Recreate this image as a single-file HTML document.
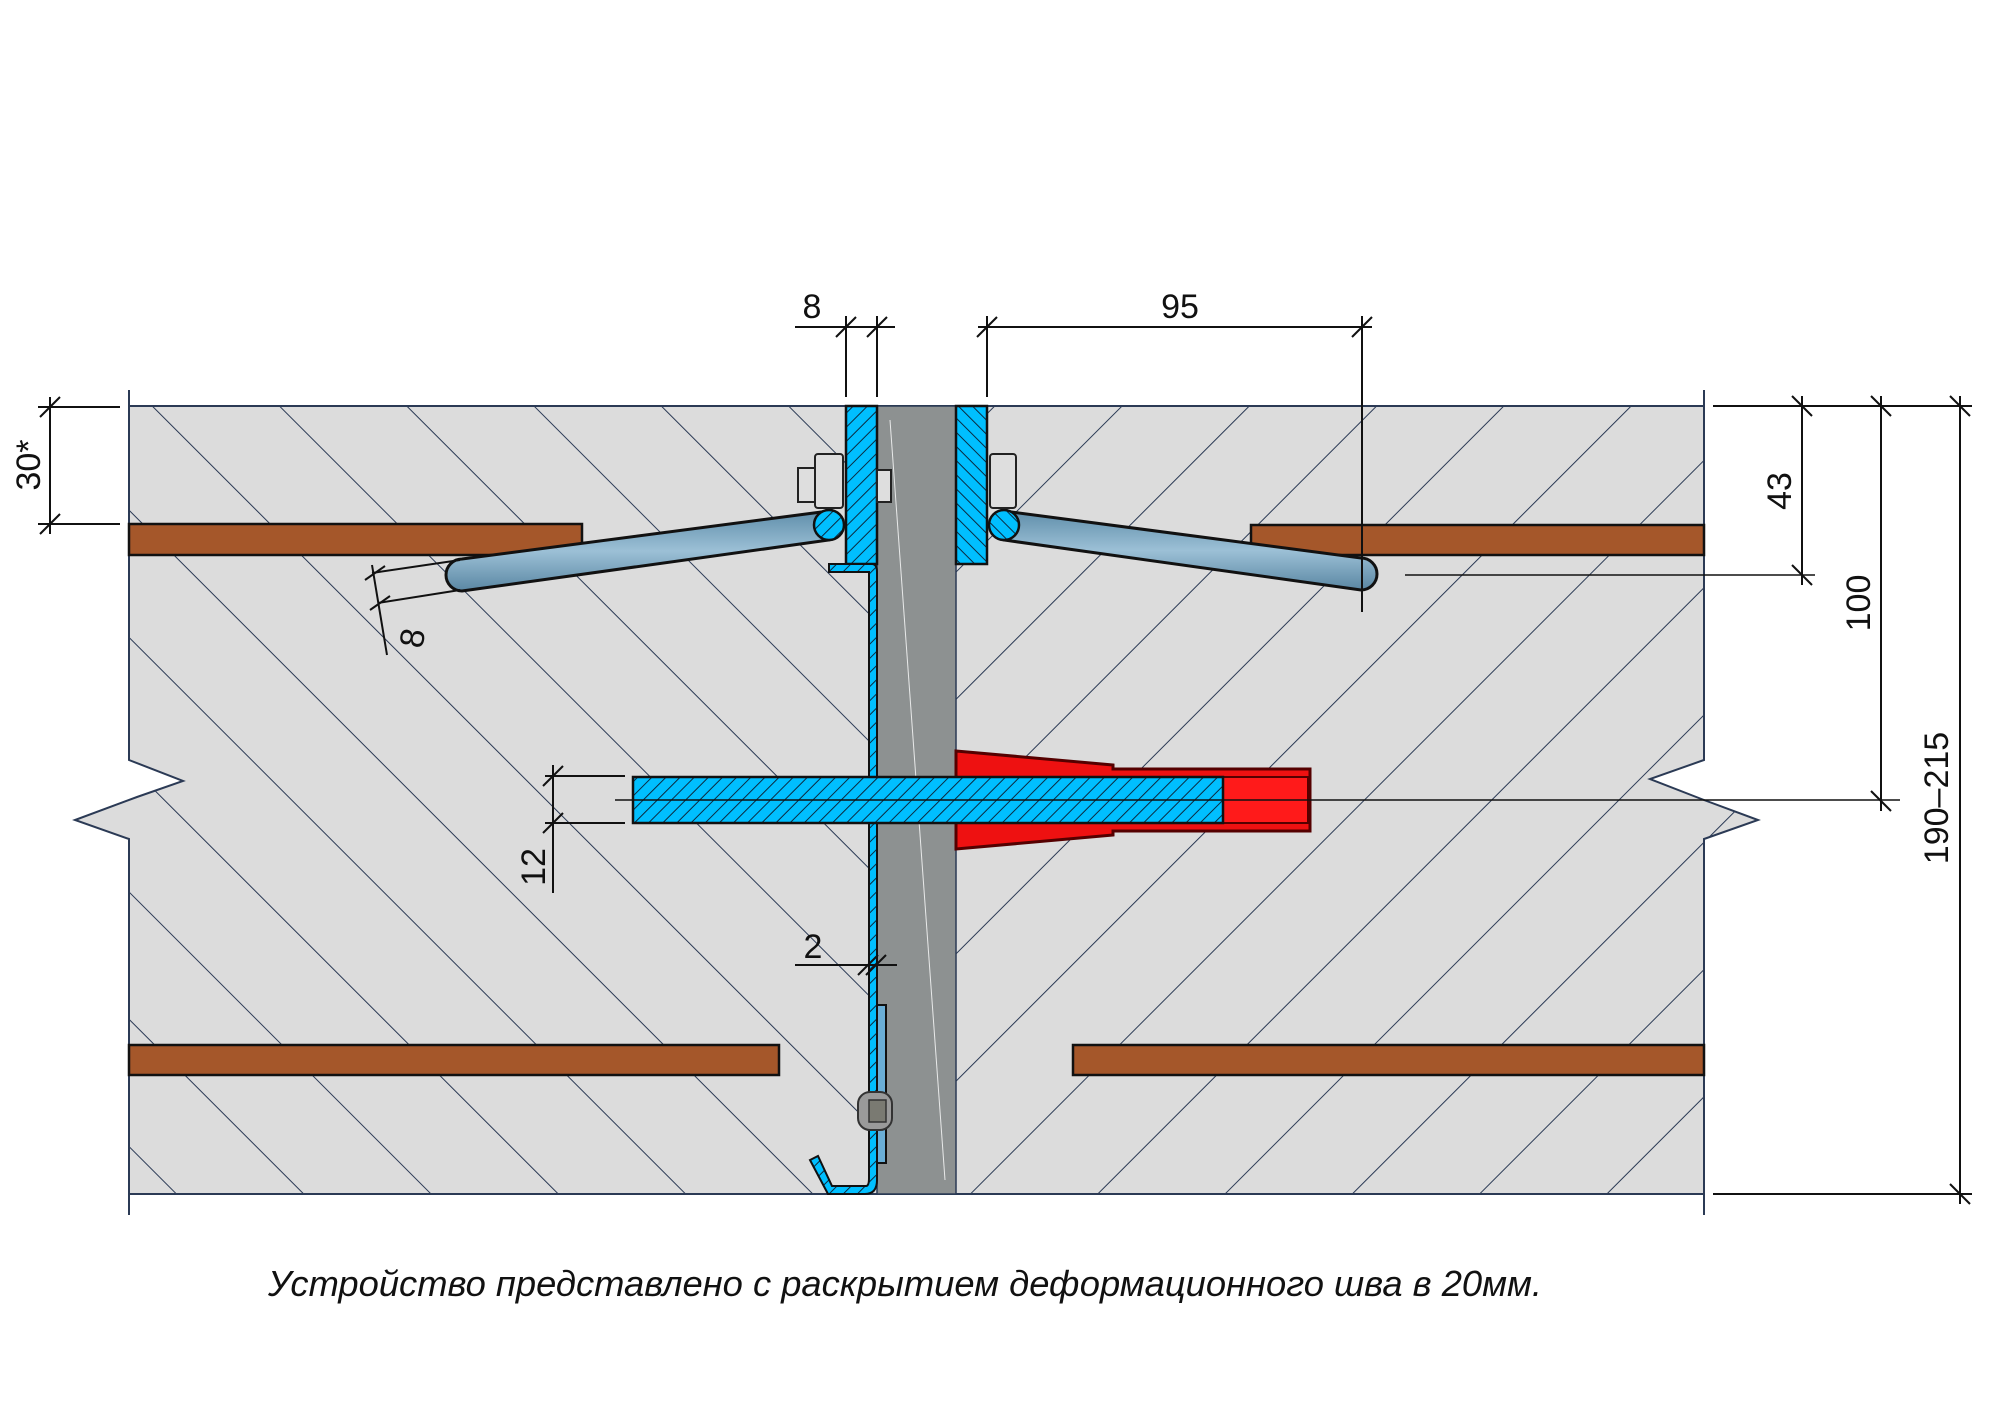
<!DOCTYPE html>
<html><head><meta charset="utf-8"><style>html,body{margin:0;padding:0;background:#fff}svg{display:block}</style></head>
<body>
<svg width="2005" height="1401" viewBox="0 0 2005 1401" xmlns="http://www.w3.org/2000/svg" font-family="'Liberation Sans', 'DejaVu Sans', sans-serif">
<defs>
<pattern id="hL" patternUnits="userSpaceOnUse" width="90" height="90" patternTransform="rotate(-45)">
<line x1="0" y1="0" x2="0" y2="90" stroke="#2b3a55" stroke-width="2"/></pattern>
<pattern id="hR" patternUnits="userSpaceOnUse" width="90" height="90" patternTransform="rotate(45)">
<line x1="0" y1="0" x2="0" y2="90" stroke="#2b3a55" stroke-width="2"/></pattern>
<pattern id="hb" patternUnits="userSpaceOnUse" width="10" height="10" patternTransform="rotate(45)">
<rect width="10" height="10" fill="#00bfff"/><line x1="0" y1="0" x2="0" y2="10" stroke="#0b2a40" stroke-width="2"/></pattern>
<pattern id="hb2" patternUnits="userSpaceOnUse" width="10" height="10" patternTransform="rotate(-45)">
<rect width="10" height="10" fill="#00bfff"/><line x1="0" y1="0" x2="0" y2="10" stroke="#0b2a40" stroke-width="2"/></pattern>
<linearGradient id="an" x1="0" y1="0" x2="0" y2="1"><stop offset="0" stop-color="#5f8eaa"/><stop offset="0.5" stop-color="#9cc0d6"/><stop offset="1" stop-color="#5a87a3"/></linearGradient>
</defs>

<path d="M129,406 H877 V1194 H129 V839 L75,820 L137,797 L183,781 L129,760 Z" fill="#dcdcdc"/>
<path d="M129,406 H877 V1194 H129 V839 L75,820 L137,797 L183,781 L129,760 Z" fill="url(#hL)"/>
<path d="M956,406 H1704 V760 L1650,779 L1704,800 L1758,820 L1704,839 V1194 H956 Z" fill="#dcdcdc"/>
<path d="M956,406 H1704 V760 L1650,779 L1704,800 L1758,820 L1704,839 V1194 H956 Z" fill="url(#hR)"/>
<g stroke="#2b3a55" stroke-width="2" fill="none">
<line x1="129" y1="406" x2="1704" y2="406"/>
<line x1="129" y1="1194" x2="1704" y2="1194"/>
<path d="M129,390 V760 L183,781 L137,797 L75,820 L129,839 V1215"/>
<path d="M1704,390 V760 L1650,779 L1704,800 L1758,820 L1704,839 V1215"/>
</g>
<rect x="877" y="406" width="79" height="788" fill="#8d9191" stroke="#2b3a55" stroke-width="1.5"/>
<line x1="890" y1="420" x2="945" y2="1180" stroke="#fff" stroke-width="1" opacity="0.8"/>

<g fill="#a5572a" stroke="#111" stroke-width="2.5">
<rect x="129" y="524" width="453" height="31"/>
<rect x="1251" y="525" width="453" height="30"/>
<rect x="129" y="1045" width="650" height="30"/>
<rect x="1073" y="1045" width="631" height="30"/>
</g>

<path d="M829,511 L462,559 A16,16 0 0 0 462,591 L829,540 Z" fill="url(#an)" stroke="#111" stroke-width="3"/>
<path d="M1004,511 L1361,558 A16,16 0 0 1 1361,590 L1004,540 Z" fill="url(#an)" stroke="#111" stroke-width="3"/>
<circle cx="829" cy="525" r="15" fill="url(#hb)" stroke="#111" stroke-width="2.5"/>
<circle cx="1004" cy="525" r="15" fill="url(#hb2)" stroke="#111" stroke-width="2.5"/>

<rect x="846" y="406" width="31" height="158" fill="url(#hb)" stroke="#111" stroke-width="2.5"/>
<rect x="956" y="406" width="31" height="158" fill="url(#hb2)" stroke="#111" stroke-width="2.5"/>
<g stroke="#222" stroke-width="2" fill="#dedede">
<rect x="798" y="468" width="18" height="34"/>
<rect x="815" y="454" width="28" height="54" rx="3"/>
<rect x="877" y="470" width="14" height="32"/>
<rect x="990" y="454" width="26" height="54" rx="3"/>
</g>
<path d="M829,564 H872 Q877,564 877,572 V1180 Q877,1194 865,1194 H828 L810,1160 L818,1156 L832,1186 H866 Q869,1186 869,1178 V572 H829 Z" fill="url(#hb)" stroke="#111" stroke-width="2"/>
<rect x="877" y="1005" width="9" height="158" fill="#6aaed6" stroke="#111" stroke-width="2"/>
<rect x="858" y="1092" width="34" height="38" rx="12" fill="#9a9a9a" stroke="#333" stroke-width="2"/>
<rect x="869" y="1100" width="17" height="22" fill="#7a7a72" stroke="#333" stroke-width="1.5"/>

<path d="M956,751 L1113,765 V769 H1310 V831 H1113 V835 L956,849 Z" fill="#ee1111" stroke="#550000" stroke-width="3"/>
<rect x="964" y="777" width="344" height="46" fill="#ff1a1a" stroke="#550000" stroke-width="2"/>
<rect x="633" y="777" width="590" height="46" fill="url(#hb)" stroke="#111" stroke-width="2.5"/>
<line x1="615" y1="800" x2="1900" y2="800" stroke="#111" stroke-width="1.5"/>

<g stroke="#111" stroke-width="2" fill="none">
<line x1="795" y1="327" x2="895" y2="327"/>
<line x1="846" y1="316" x2="846" y2="397"/><line x1="877" y1="316" x2="877" y2="397"/>
<line x1="836" y1="337" x2="856" y2="317"/><line x1="867" y1="337" x2="887" y2="317"/>
<line x1="978" y1="327" x2="1372" y2="327"/>
<line x1="987" y1="316" x2="987" y2="397"/><line x1="1362" y1="316" x2="1362" y2="612"/>
<line x1="977" y1="337" x2="997" y2="317"/><line x1="1352" y1="337" x2="1372" y2="317"/>
<line x1="38" y1="407" x2="120" y2="407"/><line x1="38" y1="524" x2="120" y2="524"/>
<line x1="50" y1="397" x2="50" y2="534"/>
<line x1="40" y1="417" x2="60" y2="397"/><line x1="40" y1="534" x2="60" y2="514"/>
<line x1="372" y1="573" x2="460" y2="560"/><line x1="378" y1="603" x2="460" y2="590"/>
<line x1="372" y1="565" x2="387" y2="655"/>
<line x1="365" y1="580" x2="385" y2="566"/><line x1="370" y1="610" x2="390" y2="596"/>
<line x1="545" y1="776" x2="625" y2="776"/><line x1="545" y1="823" x2="625" y2="823"/>
<line x1="553" y1="765" x2="553" y2="893"/>
<line x1="543" y1="786" x2="563" y2="766"/><line x1="543" y1="833" x2="563" y2="813"/>
<line x1="795" y1="965" x2="897" y2="965"/>
<line x1="858" y1="975" x2="878" y2="955"/><line x1="866" y1="975" x2="886" y2="955"/>
<line x1="1713" y1="406" x2="1972" y2="406"/>
<line x1="1405" y1="575" x2="1815" y2="575" stroke-width="1.5"/>
<line x1="1713" y1="1194" x2="1972" y2="1194"/>
<line x1="1802" y1="396" x2="1802" y2="585"/>
<line x1="1881" y1="396" x2="1881" y2="811"/>
<line x1="1960" y1="396" x2="1960" y2="1204"/>
<line x1="1792" y1="396" x2="1812" y2="416"/><line x1="1792" y1="565" x2="1812" y2="585"/>
<line x1="1871" y1="396" x2="1891" y2="416"/><line x1="1871" y1="791" x2="1891" y2="811"/>
<line x1="1950" y1="396" x2="1970" y2="416"/><line x1="1950" y1="1184" x2="1970" y2="1204"/>
</g>
<g font-size="34" fill="#111">
<text x="812" y="318" text-anchor="middle">8</text>
<text x="1180" y="318" text-anchor="middle">95</text>
<text x="813" y="958" text-anchor="middle">2</text>
<text transform="translate(40,465) rotate(-90)" text-anchor="middle">30*</text>
<text transform="translate(412,638) rotate(-80)" text-anchor="middle" dy="12">8</text>
<text transform="translate(545,867) rotate(-90)" text-anchor="middle">12</text>
<text transform="translate(1791,491) rotate(-90)" text-anchor="middle">43</text>
<text transform="translate(1870,603) rotate(-90)" text-anchor="middle">100</text>
<text transform="translate(1948,798) rotate(-90)" text-anchor="middle">190–215</text>
</g>
<text x="268" y="1296" font-size="36" font-style="italic" fill="#111" textLength="1274" lengthAdjust="spacingAndGlyphs">Устройство представлено с раскрытием деформационного шва в 20мм.</text>
</svg>
</body></html>
